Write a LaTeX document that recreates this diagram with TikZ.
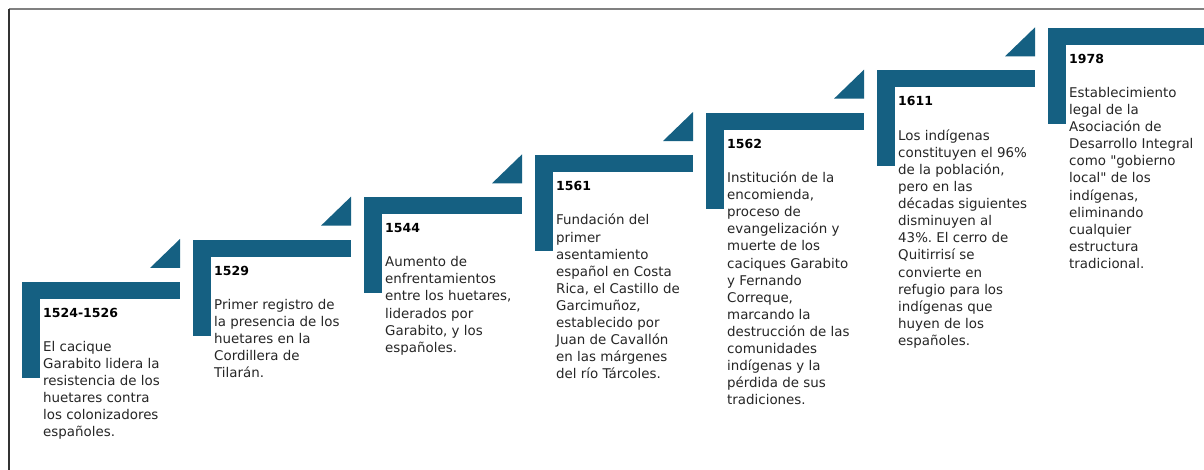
\documentclass[tikz,border=0pt]{standalone}
\usepackage{fontspec}
\newfontfamily\bodyfont{DejaVu Sans}
\definecolor{teal}{HTML}{156082}
\definecolor{bodytext}{HTML}{262626}
\begin{document}
\begin{tikzpicture}[x=1pt,y=-1pt,
  bar/.style={fill=teal,draw=none},
  yearlbl/.style={anchor=base west,inner sep=0pt,font=\bodyfont\fontsize{12.5}{17.2}\selectfont\bfseries,text=black},
  bodylbl/.style={anchor=north west,inner sep=0pt,align=left,font=\bodyfont\fontsize{13.4}{17.1}\selectfont\frenchspacing,text=bodytext}]
\useasboundingbox (0,0) rectangle (1204,470);
\fill[white] (0,0) rectangle (1204,470);
% frame
\draw[line width=1.2pt,gray] (9,9) -- (1204,9);
\draw[line width=1.2pt,black!80] (9,9) -- (9,470);
% steps
\foreach \i in {0,...,6}{
  \pgfmathsetmacro{\xo}{22+171*\i}
  \pgfmathsetmacro{\yo}{282-42.33*\i}
  \fill[bar] (\xo,\yo) rectangle ++(158,17);
  \fill[bar] (\xo,\yo) rectangle ++(18,96);
}
\foreach \i in {0,...,5}{
  \pgfmathsetmacro{\xo}{22+171*\i}
  \pgfmathsetmacro{\yo}{282-42.33*\i}
  \fill[bar] (\xo+128,\yo-14) -- (\xo+158,\yo-14) -- (\xo+158,\yo-43) -- cycle;
}
% texts
\node[yearlbl] (y1) at (43,317.5) {1524-1526};
\node[bodylbl] (b1) at (43,341) {El cacique\\Garabito lidera la\\resistencia de los\\huetares contra\\los colonizadores\\españoles.};
\node[yearlbl] (y2) at (214,275.17) {1529};
\node[bodylbl] (b2) at (214,298.67) {Primer registro de\\la presencia de los\\huetares en la\\Cordillera de\\Tilarán.};
\node[yearlbl] (y3) at (385,232.84) {1544};
\node[bodylbl] (b3) at (385,256.34) {Aumento de\\enfrentamientos\\entre los huetares,\\liderados por\\Garabito, y los\\españoles.};
\node[yearlbl] (y4) at (556,190.51) {1561};
\node[bodylbl] (b4) at (556,214.01) {Fundación del\\primer\\asentamiento\\español en Costa\\Rica, el Castillo de\\Garcimuñoz,\\establecido por\\Juan de Cavallón\\en las márgenes\\del río Tárcoles.};
\node[yearlbl] (y5) at (727,148.18) {1562};
\node[bodylbl] (b5) at (727,171.68) {Institución de la\\encomienda,\\proceso de\\evangelización y\\muerte de los\\caciques Garabito\\y Fernando\\Correque,\\marcando la\\destrucción de las\\comunidades\\indígenas y la\\pérdida de sus\\tradiciones.};
\node[yearlbl] (y6) at (898,105.85) {1611};
\node[bodylbl] (b6) at (898,129.35) {Los indígenas\\constituyen el 96\%\\de la población,\\pero en las\\décadas siguientes\\disminuyen al\\43\%. El cerro de\\Quitirrisí se\\convierte en\\refugio para los\\indígenas que\\huyen de los\\españoles.};
\node[yearlbl] (y7) at (1069,63.52) {1978};
\node[bodylbl] (b7) at (1069,87.02) {Establecimiento\\legal de la\\Asociación de\\Desarrollo Integral\\como "gobierno\\local" de los\\indígenas,\\eliminando\\cualquier\\estructura\\tradicional.};
\end{tikzpicture}
\end{document}
